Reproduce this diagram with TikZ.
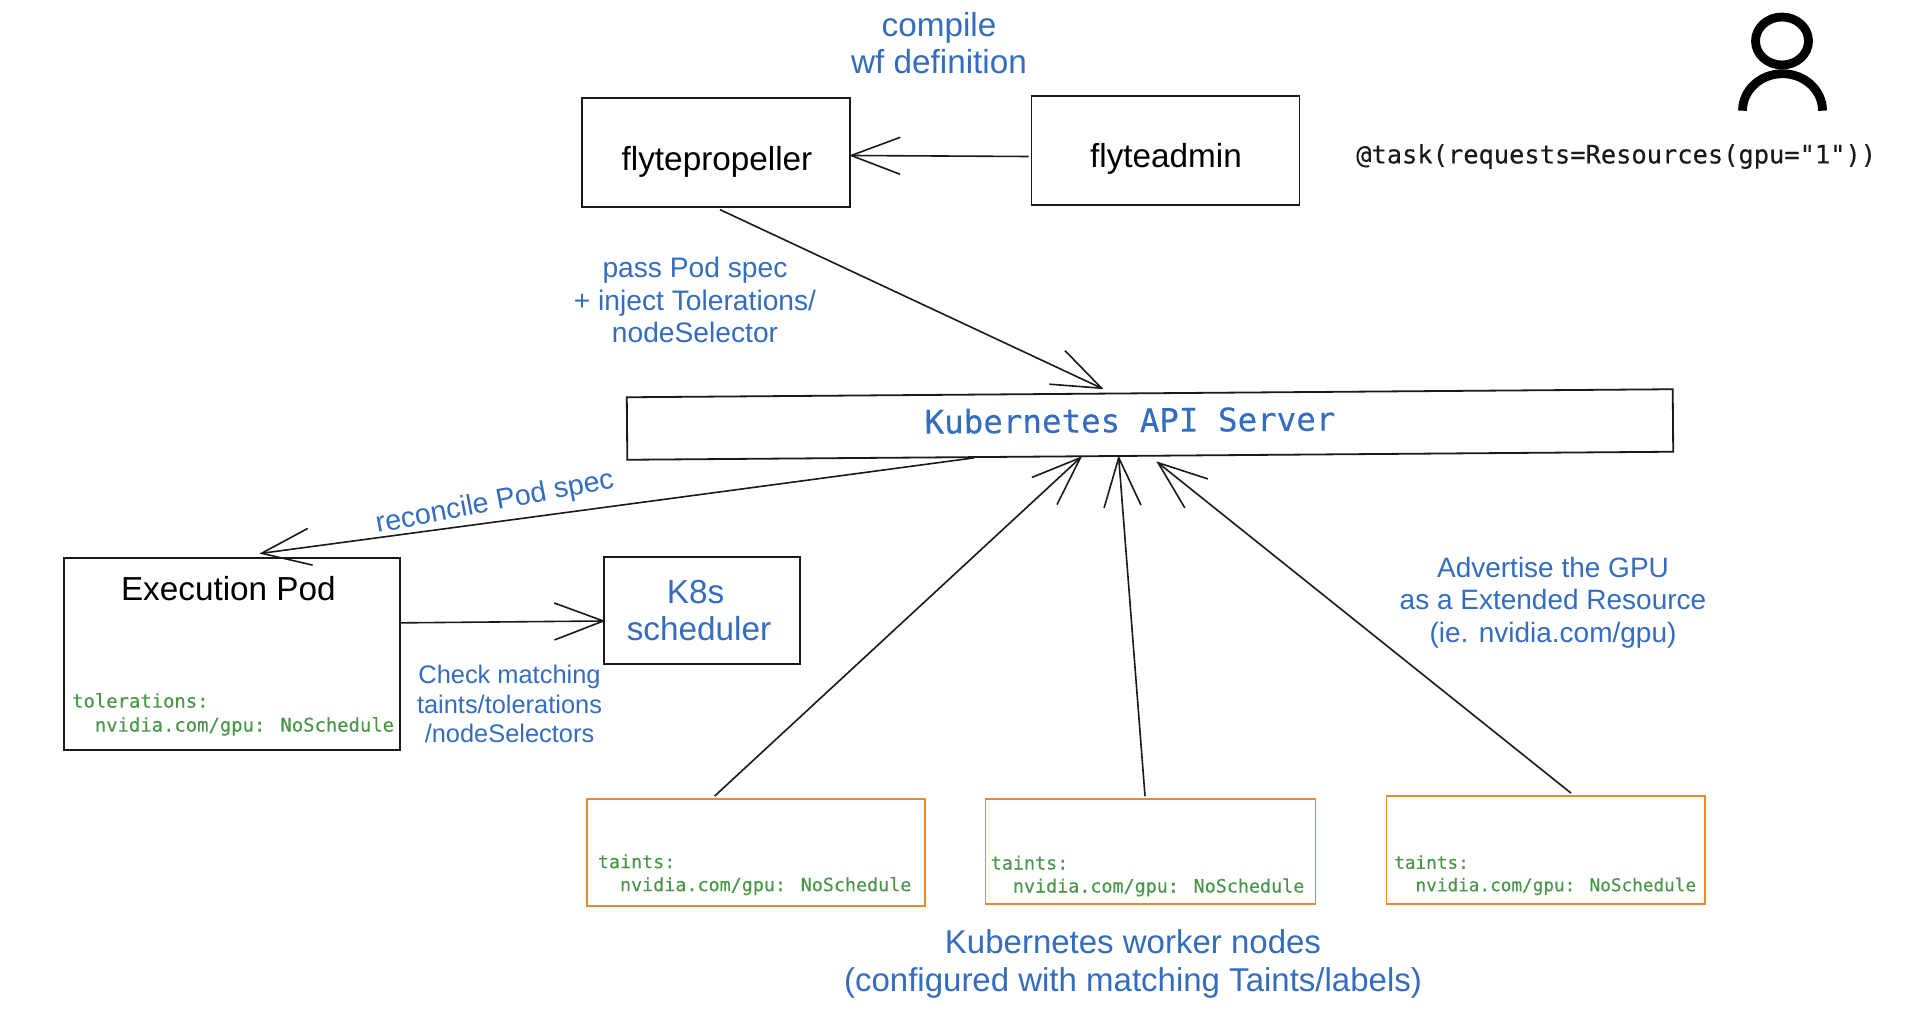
\documentclass[tikz,border=0pt]{standalone}
\usepackage{fontspec}
\usepackage{tikz}
\usetikzlibrary{arrows.meta}
\setmainfont{Liberation Sans}
\newfontfamily\codefont[FakeBold=0.2]{DejaVu Sans Mono}
\definecolor{labelblue}{RGB}{52,108,190}
\definecolor{codegreen}{RGB}{72,150,72}
\definecolor{nodeorange}{RGB}{226,140,50}
\newcommand{\fsize}[2]{\fontsize{#1}{#2}\selectfont}
\newcommand{\gpuline}{\phantom{xx}nvidia.com/gpu: NoSchedule}
\tikzset{
	box/.style={draw=black!90, line width=1.8pt, inner sep=0pt, minimum width=#1},
	worker/.style={draw=nodeorange, line width=1.8pt, inner sep=0pt, minimum width=#1},
	conn/.style={draw=black!90, line width=1.6pt, shorten >=-2.5pt, -{Straight Barb[length=49pt,width=37pt,line width=1.6pt]}},
	bigtext/.style={inner sep=0pt, align=center, font=\fsize{33.3}{37}},
	smalltext/.style={text=labelblue, inner sep=0pt, align=center, font=\fsize{28.2}{32.7}},
	code/.style={text=codegreen, inner sep=0pt, anchor=west, align=left},
}

\begin{document}
\begin{tikzpicture}[x=1pt,y=-1pt]
	\useasboundingbox (0,0) rectangle (1916,1014);

	\node[box=268pt, minimum height=108.5pt] (propeller) at (716,152.5) {};
	\node[bigtext] (propellertext) at (717,161.5) {flytepropeller};
	\node[box=268pt, minimum height=108.5pt] (admin) at (1165.5,150.5) {};
	\node[bigtext] (admintext) at (1166,159) {flyteadmin};
	\node[box=1046pt, minimum height=62.5pt, rotate=0.44] (api) at (1150,424.5) {};
	\node[text=labelblue, inner sep=0pt, rotate=0.44, font=\codefont\fsize{32.5}{37}] (apitext) at (1130,420) {Kubernetes API Server};
	\node[box=336pt, minimum height=192pt] (pod) at (231.85,653.85) {};
	\node[bigtext] (podtext) at (228.4,589) {Execution Pod};
	\node[box=196pt, minimum height=107pt] (sched) at (702,610.5) {};
	\node[bigtext, text=labelblue] (schedtext) at (699,611) {K8s\hspace*{7pt}\\scheduler};

	\node[worker=338pt, minimum height=107pt] (workerA) at (756,852.5) {};
	\node[worker=330pt, minimum height=105pt] (workerB) at (1150.5,851.5) {};
	\node[worker=318.5pt, minimum height=108pt] (workerC) at (1545.75,850) {};

	\node[code, font=\codefont\fsize{18.87}{24}] (podcode) at (72,714.4) {tolerations:\\\gpuline};
	\node[code, font=\codefont\fsize{18.38}{23}] (codeA) at (597.7,874.7) {taints:\\\gpuline};
	\node[code, font=\codefont\fsize{18.38}{23}] (codeB) at (990.6,876) {taints:\\\gpuline};
	\node[code, font=\codefont\fsize{17.7}{22.5}] (codeC) at (1394,875.2) {taints:\\\gpuline};

	\draw[conn] ([shift={(-2,6)}]admin.west) -- ([shift={(0.5,3)}]propeller.east);
	\draw[conn] ([shift={(4,2)}]propeller.south) -- ([shift={(-48.4,-4.25)}]api.north);
	\draw[conn] ([shift={(-176.4,1.25)}]api.south) -- ([shift={(30,-3.7)}]pod.north);
	\draw[conn] ([shift={(0,-31)}]pod.east) -- ([shift={(0,10.5)}]sched.west);
	\draw[conn] ([shift={(-41.4,-2)}]workerA.north) -- ([shift={(-70,1.25)}]api.south);
	\draw[conn] ([shift={(-5.5,-2)}]workerB.north) -- ([shift={(-31.5,1.25)}]api.south);
	\draw[conn] ([shift={(25.25,-2)}]workerC.north) -- ([shift={(8,6.25)}]api.south);

	\node[bigtext, text=labelblue] (compile) at (939,43) {compile\\wf definition};
	\node[smalltext] (passspec) at (695,300) {pass Pod spec\\+ inject Tolerations/\\nodeSelector};
	\node[smalltext, font=\fsize{28.6}{33}, rotate=10.8] (reconcile) at (495,503) {reconcile Pod spec};
	\node[smalltext, font=\fsize{25.4}{29.5}] (check) at (509.5,704) {Check matching\\taints/tolerations\\/nodeSelectors};
	\node[smalltext, font=\fsize{28}{32.5}] (advertise) at (1553,602.5) {Advertise the GPU\\as a Extended Resource\\(ie. nvidia.com/gpu)};
	\node[bigtext, font=\fsize{33}{37.5}, text=labelblue] (workers) at (1133,964) {Kubernetes worker nodes\\(configured with matching Taints/labels)};
	\node[inner sep=0pt, anchor=west, text=black!90, font=\codefont\fsize{25.4}{30}] (taskcode) at (1356,156.5) {@task(requests=Resources(gpu="1"))};

	% user icon
	\draw[line width=8.8pt] (1782,41) ellipse (26.5pt and 24pt);
	\draw[line width=8.8pt] (1742.5,110.7) arc[start angle=180, end angle=0, x radius=40pt, y radius=37pt];
\end{tikzpicture}
\end{document}
